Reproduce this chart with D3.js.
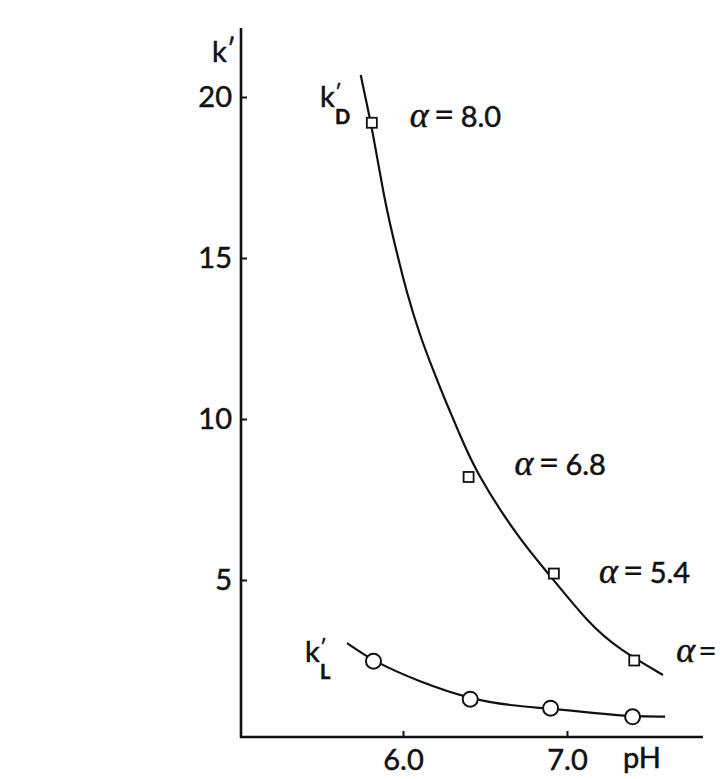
<!DOCTYPE html>
<html>
<head>
<meta charset="utf-8">
<script src="https://cdn.jsdelivr.net/npm/d3@7"></script>
<style>
  html, body { margin: 0; padding: 0; background: #fff; }
  svg { display: block; }
  text { font-family: Lato, "DejaVu Sans", sans-serif; fill: #111; stroke: #111; stroke-width: 0.5; }
</style>
</head>
<body>
<svg id="chart" width="720" height="779"></svg>
<script>
// measured points (squares = k'D, circles = k'L)
const squarePH = [5.81, 6.40, 6.92, 7.41];
const squareK = [19.2, 8.2, 5.2, 2.5];
const circlePH = [5.82, 6.41, 6.90, 7.40];
const circleK = [2.48, 1.30, 1.02, 0.75];

// smooth curves
const curveDpH = [5.742, 5.805, 5.845, 5.881, 5.915, 5.973, 6.024, 6.104, 6.177, 6.256, 6.335, 6.445, 6.713, 6.884, 7.140, 7.323, 7.585];
const curveDk  = [20.68, 19.19, 18.04, 17.02, 16.18, 14.94, 13.91, 12.58, 11.61, 10.59, 9.66, 8.32, 6.24, 5.22, 3.60, 2.83, 2.05];
const curveLpH = [5.659, 5.817, 6.104, 6.415, 6.652, 6.896, 7.159, 7.402, 7.598];
const curveLk  = [3.04, 2.48, 1.83, 1.30, 1.10, 1.01, 0.87, 0.76, 0.76];

const xTicks = [6.0, 7.0];
const yTicks = [5, 10, 15, 20];
const alphaLabels = ["8.0", "6.8", "5.4", ""];

const svg = d3.select("#chart");

const x = d3.scaleLinear().domain([6, 7]).range([403, 567]);
const y = d3.scaleLinear().domain([0, 20]).range([741, 97]);

const AXIS_X = 241, AXIS_Y = 737;

// axes
svg.append("line")
    .attr("x1", AXIS_X).attr("x2", AXIS_X)
    .attr("y1", 28).attr("y2", AXIS_Y + 1)
    .attr("stroke", "#111").attr("stroke-width", 2.6);
svg.append("line")
    .attr("x1", AXIS_X - 1).attr("x2", 703)
    .attr("y1", AXIS_Y).attr("y2", AXIS_Y)
    .attr("stroke", "#111").attr("stroke-width", 2.6);

var yAxis = d3.axisLeft(y).tickValues(yTicks).tickSizeInner(-6).tickSizeOuter(0).tickPadding(9)
    .tickFormat(d3.format("d"));
var gy = svg.append("g").attr("transform", `translate(${AXIS_X},0)`).call(yAxis);
gy.select(".domain").remove();

var xAxis = d3.axisBottom(x).tickValues(xTicks).tickSizeInner(-6).tickSizeOuter(0).tickPadding(12)
    .tickFormat(d3.format(".1f"));
var gx = svg.append("g").attr("transform", `translate(0,${AXIS_Y})`).call(xAxis);
gx.select(".domain").remove();

[gx, gy].forEach(g => {
    g.selectAll(".tick line").attr("stroke", "#111").attr("stroke-width", 2);
    g.selectAll(".tick text")
        .attr("font-family", "Lato, 'DejaVu Sans', sans-serif")
        .attr("font-size", 29).attr("fill", "#111");
});

svg.append("text").attr("x", 623).attr("y", 768).attr("font-size", 29).text("pH");

// curves
var line = d3.line().x(d => x(d[0])).y(d => y(d[1])).curve(d3.curveBasis);

svg.append("path")
    .attr("d", line(d3.zip(curveDpH, curveDk)))
    .attr("fill", "none").attr("stroke", "#111").attr("stroke-width", 2.2);
svg.append("path")
    .attr("d", line(d3.zip(curveLpH, curveLk)))
    .attr("fill", "none").attr("stroke", "#111").attr("stroke-width", 2.2);

// markers
const SQ = 10;
svg.selectAll("rect.kd")
    .data(d3.zip(squarePH, squareK))
    .enter().append("rect")
    .attr("class", "kd")
    .attr("x", d => x(d[0]) - SQ / 2).attr("y", d => y(d[1]) - SQ / 2)
    .attr("width", SQ).attr("height", SQ)
    .attr("fill", "#fff").attr("stroke", "#111").attr("stroke-width", 1.8);

svg.selectAll("circle.kl")
    .data(d3.zip(circlePH, circleK))
    .enter().append("circle")
    .attr("class", "kl")
    .attr("cx", d => x(d[0])).attr("cy", d => y(d[1]))
    .attr("r", 7.5)
    .attr("fill", "#fff").attr("stroke", "#111").attr("stroke-width", 2);

// alpha labels next to the squares
var alphaOffsets = [[38, 4], [46, -2], [45, 9], [42, 1]];
svg.selectAll("text.alpha")
    .data(d3.zip(squarePH, squareK, alphaLabels, alphaOffsets))
    .enter().append("text")
    .attr("class", "alpha")
    .attr("x", d => x(d[0]) + d[3][0])
    .attr("y", d => y(d[1]) + d[3][1])
    .attr("font-size", 29)
    .each(function(d){
        var t = d3.select(this);
        t.append("tspan")
            .attr("font-family", "'Liberation Serif', 'DejaVu Serif', serif")
            .attr("font-style", "italic").attr("font-size", 36)
            .text("α");
        t.append("tspan").attr("dx", d[2] ? 5 : 3).attr("font-size", d[2] ? 36 : 32)
            .attr("stroke-width", 0.2).text("=");
        if (d[2]) t.append("tspan").attr("dx", 6).text(d[2]);
    });

// k' labels: prime raised, subscript lowered
function kLabel(px, py, sub){
    var t = svg.append("text").attr("x", px).attr("y", py).attr("font-size", 29);
    t.append("tspan").text("k");
    t.append("tspan").attr("x", px + 15).attr("y", sub ? py - 8 : py - 4)
        .attr("font-size", sub ? 20 : 26).text("′");
    if (sub) {
        t.append("tspan").attr("x", px + 15).attr("y", py + 17)
            .attr("font-size", 20).attr("font-weight", "bold").text(sub);
    }
}
kLabel(212, 62, null);
kLabel(320, 107, "D");
kLabel(305, 662, "L");
</script>
</body>
</html>
